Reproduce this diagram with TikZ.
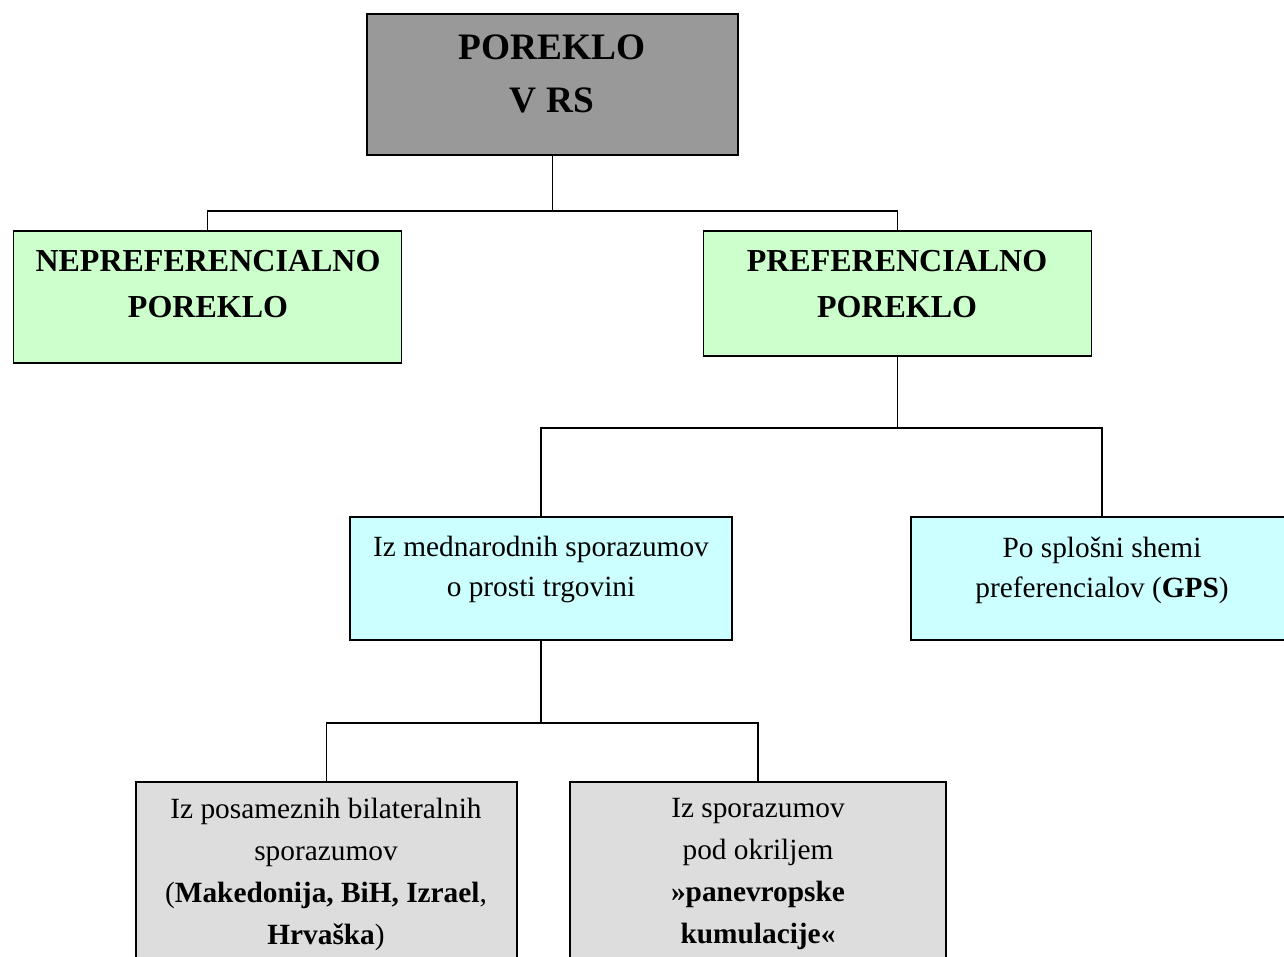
\documentclass[tikz,border=0pt]{standalone}
\usepackage{fontspec}
\setmainfont{Liberation Serif}
\definecolor{rootgrey}{RGB}{153,153,153}
\definecolor{mint}{RGB}{204,255,204}
\definecolor{paleblue}{RGB}{204,255,255}
\definecolor{lightgrey}{RGB}{221,221,221}

\begin{document}
\begin{tikzpicture}
  [
    x=0.75pt, y=-0.75pt,
    box/.style={draw, line width=1.4pt, inner sep=0pt},
    rootbox/.style={box, fill=rootgrey, minimum width=278.25pt, minimum height=105.75pt},
    kindbox/.style={box, fill=mint, minimum width=291pt},
    srcbox/.style={box, fill=paleblue, minimum width=286.5pt, minimum height=92.25pt},
    agrbox/.style={box, fill=lightgrey, minimum height=144.75pt},
    txt/.style={align=center, inner sep=0pt, font=\fontsize{22}{30}\selectfont},
    link/.style={line width=1.3pt}
  ]
  \clip (0,0) rectangle (1284,956);

  \node[rootbox] (root) at (552.5,84.5) {};
  \node[kindbox, minimum height=99pt] (nepref) at (207.5,297) {};
  \node[kindbox, minimum height=93.75pt] (pref) at (897.5,293.5) {};
  \node[srcbox] (intl) at (541,578.5) {};
  \node[srcbox] (gps) at (1102,578.5) {};
  \node[agrbox, minimum width=285.75pt] (bilat) at (326.5,878.5) {};
  \node[agrbox, minimum width=282pt] (paneu) at (758,878.5) {};

  \node[txt, font=\fontsize{28}{40}\selectfont\bfseries] (roottxt) at (552,74) {POREKLO\\V RS};
  \node[txt, font=\fontsize{24}{34}\selectfont\bfseries] (neptxt) at (208,284) {NEPREFERENCIALNO\\POREKLO};
  \node[txt, font=\fontsize{24}{34}\selectfont\bfseries] (preftxt) at (897,284) {PREFERENCIALNO\\POREKLO};
  \node[txt] (intltxt) at (541,569) {Iz mednarodnih sporazumov\\o prosti trgovini};
  \node[txt] (gpstxt) at (1102,570) {Po splošni shemi\\preferencialov (\textbf{GPS})};
  \node[txt, font=\fontsize{22}{31.5}\selectfont] (bilattxt) at (326,874) {Iz posameznih bilateralnih\\sporazumov\\(\textbf{Makedonija, BiH, Izrael},\\\textbf{Hrvaška})};
  \node[txt, font=\fontsize{22}{31.5}\selectfont] (paneutxt) at (758,874) {Iz sporazumov\\pod okriljem\\\textbf{»panevropske}\\\textbf{kumulacije«}};

  \draw[link] (root.south) -- ++(0,55) coordinate (j1);
  \draw[link] (nepref.north) |- (j1) -| (pref.north);
  \draw[link] (pref.south) -- ++(0,71) coordinate (j2);
  \draw[link] (intl.north) |- (j2) -| (gps.north);
  \draw[link] (intl.south) -- ++(0,82) coordinate (j3);
  \draw[link] (bilat.north) |- (j3) -| (paneu.north);
\end{tikzpicture}
\end{document}
